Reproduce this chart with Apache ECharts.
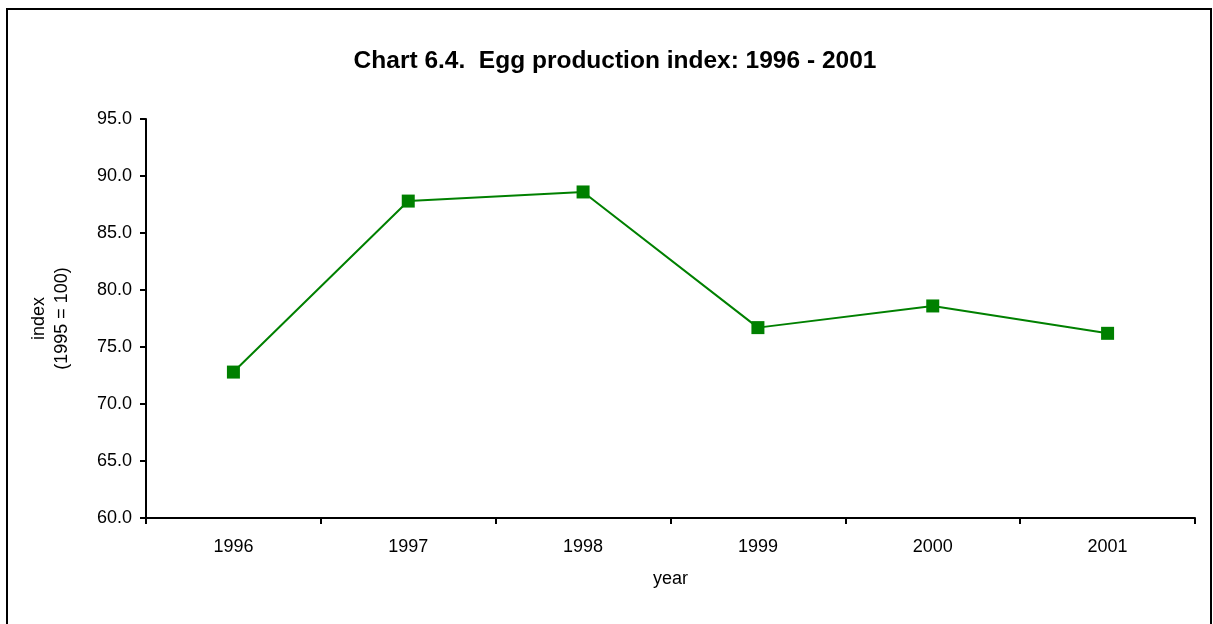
<!DOCTYPE html>
<html>
<head>
<meta charset="utf-8">
<script src="https://cdn.jsdelivr.net/npm/echarts@6/dist/echarts.min.js"></script>
<style>
html,body{margin:0;padding:0;background:#fff;}
#chart{width:1213px;height:624px;}
</style>
</head>
<body>
<div id="chart"></div>
<script>
var titleText = 'Chart 6.4.  Egg production index: 1996 - 2001';
var categories = ['1996', '1997', '1998', '1999', '2000', '2001'];
var indexValues = [72.8, 87.8, 88.6, 76.7, 78.6, 76.2];
var yAxisName = 'index\n(1995 = 100)';
var xAxisName = 'year';

var chart = echarts.init(document.getElementById('chart'), null, {renderer: 'canvas'});
var font = 'Liberation Sans, Arial, sans-serif';
chart.setOption({
  backgroundColor: '#ffffff',
  animation: false,
  title: {
    text: titleText,
    left: 610,
    top: 44,
    textAlign: 'center',
    textStyle: {fontFamily: font, fontSize: 24.5, fontWeight: 'bold', color: '#000'}
  },
  graphic: [{
    type: 'rect',
    shape: {x: 7, y: 9, width: 1204, height: 640},
    style: {fill: 'none', stroke: '#000', lineWidth: 2},
    silent: true
  }],
  grid: {left: 146, right: 18, top: 119, bottom: 106, containLabel: false},
  xAxis: {
    type: 'category',
    data: categories,
    boundaryGap: true,
    name: xAxisName,
    nameLocation: 'middle',
    nameGap: 52,
    nameTextStyle: {fontFamily: font, fontSize: 18, color: '#000'},
    axisLine: {lineStyle: {color: '#000', width: 2}},
    axisTick: {show: true, length: 6, inside: false, alignWithLabel: false, lineStyle: {color: '#000', width: 2}},
    axisLabel: {fontFamily: font, fontSize: 18, color: '#000', margin: 20},
    splitLine: {show: false}
  },
  yAxis: {
    type: 'value',
    min: 60,
    max: 95,
    interval: 5,
    name: yAxisName,
    nameLocation: 'middle',
    nameGap: 72,
    nameRotate: 90,
    nameTextStyle: {fontFamily: font, fontSize: 18, color: '#000', lineHeight: 23, align: 'center'},
    axisLine: {show: true, lineStyle: {color: '#000', width: 2}},
    axisTick: {show: true, length: 6, inside: false, lineStyle: {color: '#000', width: 2}},
    axisLabel: {fontFamily: font, fontSize: 18, color: '#000', margin: 14,
      formatter: function (v) { return v.toFixed(1); }},
    splitLine: {show: false}
  },
  series: [{
    type: 'line',
    data: indexValues,
    symbol: 'rect',
    symbolSize: 13,
    itemStyle: {color: '#008000'},
    lineStyle: {color: '#008000', width: 2},
    z: 3
  }]
});
</script>
</body>
</html>
